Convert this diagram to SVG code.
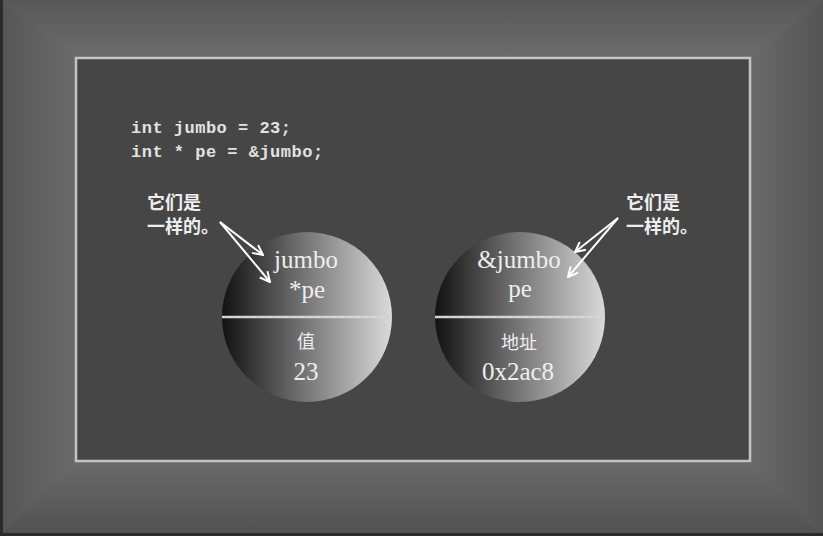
<svg xmlns="http://www.w3.org/2000/svg" width="823" height="536" viewBox="0 0 823 536">
<defs>
<linearGradient id="gTop" x1="0" y1="0" x2="0" y2="58" gradientUnits="userSpaceOnUse"><stop offset="0" stop-color="#585858"/><stop offset="1" stop-color="#6c6c6c"/></linearGradient>
<linearGradient id="gBot" x1="0" y1="536" x2="0" y2="461" gradientUnits="userSpaceOnUse"><stop offset="0" stop-color="#505050"/><stop offset="1" stop-color="#6a6a6a"/></linearGradient>
<linearGradient id="gLeft" x1="0" y1="0" x2="76" y2="0" gradientUnits="userSpaceOnUse"><stop offset="0" stop-color="#565656"/><stop offset="1" stop-color="#6a6a6a"/></linearGradient>
<linearGradient id="gRight" x1="823" y1="0" x2="750" y2="0" gradientUnits="userSpaceOnUse"><stop offset="0" stop-color="#545454"/><stop offset="1" stop-color="#6a6a6a"/></linearGradient>
<linearGradient id="gBall" x1="0" y1="0" x2="1" y2="0"><stop offset="0" stop-color="#121212"/><stop offset="0.45" stop-color="#6e6e6e"/><stop offset="1" stop-color="#dadada"/></linearGradient>
<marker id="ah" viewBox="0 0 12 12" refX="11" refY="6" markerWidth="12" markerHeight="12" markerUnits="userSpaceOnUse" orient="auto"><path d="M1,1 L11,6 L1,11" fill="none" stroke="#ffffff" stroke-width="2"/></marker>
<style>
.code{font-family:"Liberation Mono","DejaVu Sans Mono",monospace;font-size:17px;font-weight:bold;fill:#e2e2e2;letter-spacing:0.5px}
.note{font-family:"Noto Sans CJK SC","Noto Sans",sans-serif;font-size:18px;font-weight:bold;fill:#eeeeee}
.lbl{font-family:"Liberation Serif","Noto Sans CJK SC",serif;font-size:25px;fill:#eeeeee;text-anchor:middle}
.cjk{font-family:"Noto Sans CJK SC","Liberation Serif",serif;font-size:18px;fill:#eeeeee;text-anchor:middle}
.ball{fill:url(#gBall)}
.div{stroke:#d4d4d4;stroke-width:2.5}
.arr{stroke:#ffffff;stroke-width:2;fill:none;marker-end:url(#ah)}
</style>
</defs>
<g id="frame">
<rect x="0" y="0" width="823" height="536" fill="#606060"/>
<polygon points="0,0 823,0 750,58 76,58" fill="url(#gTop)"/>
<polygon points="0,536 76,461 750,461 823,536" fill="url(#gBot)"/>
<polygon points="0,0 76,58 76,461 0,536" fill="url(#gLeft)"/>
<polygon points="823,0 750,58 750,461 823,536" fill="url(#gRight)"/>
<rect x="0" y="0" width="3" height="536" fill="#2b2b2b"/>
<rect x="0" y="533" width="823" height="3" fill="#2b2b2b"/>
<rect x="76" y="58" width="674" height="403" fill="#464646" stroke="#c4c4c4" stroke-width="2.5"/>
</g>
<g id="code">
<text class="code" x="131" y="133">int jumbo = 23;</text>
<text class="code" x="131" y="157">int * pe = &amp;jumbo;</text>
</g>
<g id="note-left">
<text class="note" x="147" y="209">它们是</text>
<text class="note" x="147" y="233">一样的。</text>
</g>
<g id="note-right">
<text class="note" x="626" y="209">它们是</text>
<text class="note" x="626" y="233">一样的。</text>
</g>
<g id="node-jumbo">
<circle class="ball" cx="307" cy="317" r="85"/>
<line class="div" x1="222" y1="317" x2="392" y2="317"/>
<text class="lbl" x="306" y="268">jumbo</text>
<text class="lbl" x="307" y="298">*pe</text>
<text class="cjk" x="306" y="348">值</text>
<text class="lbl" x="306" y="380">23</text>
</g>
<g id="node-pe">
<circle class="ball" cx="520" cy="317" r="85"/>
<line class="div" x1="435" y1="317" x2="605" y2="317"/>
<text class="lbl" x="519" y="268">&amp;jumbo</text>
<text class="lbl" x="520" y="297">pe</text>
<text class="cjk" x="519" y="349">地址</text>
<text class="lbl" x="518" y="380">0x2ac8</text>
</g>
<g id="connectors">
<line class="arr" x1="220" y1="222" x2="263" y2="255"/>
<line class="arr" x1="220" y1="222" x2="270" y2="282"/>
<line class="arr" x1="618" y1="218" x2="575" y2="252"/>
<line class="arr" x1="618" y1="218" x2="568" y2="277"/>
</g>
</svg>
